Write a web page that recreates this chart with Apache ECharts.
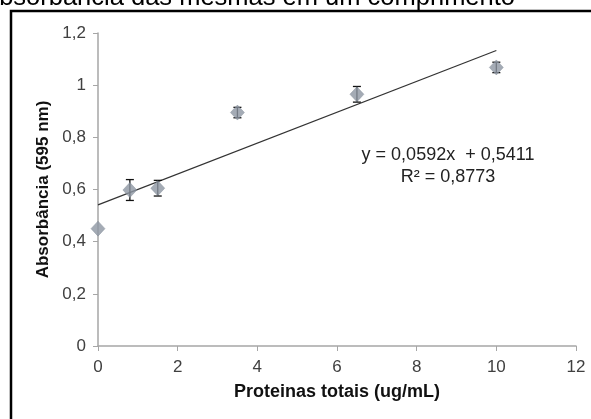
<!DOCTYPE html>
<html>
<head>
<meta charset="utf-8">
<script src="https://cdn.jsdelivr.net/npm/echarts@6/dist/echarts.min.js"></script>
<style>
  html, body { margin: 0; padding: 0; background: #fff; }
  #chart { width: 591px; height: 419px; }
</style>
</head>
<body>
<div id="chart"></div>
<script>
  // values
  const proteinX = [0, 0.8, 1.5, 3.5, 6.5, 10];
  const absorbance = [0.45, 0.598, 0.605, 0.895, 0.965, 1.068];
  const errorBars = [0, 0.04, 0.03, 0.02, 0.03, 0.02];
  const trendPoints = [[0, 0.5411], [10, 1.1331]];
  const equationText = 'y = 0,0592x  + 0,5411';
  const r2Text = 'R² = 0,8773';

  const points = proteinX.map(function (x, i) { return [x, absorbance[i]]; });
  const errData = proteinX.map(function (x, i) {
    return [x, absorbance[i] - errorBars[i], absorbance[i] + errorBars[i]];
  });

  function commaFmt(v) { return String(Math.round(v * 10) / 10).replace('.', ','); }

  const axisGray = '#a6a6a6';
  const labelColor = '#404040';
  const font = 'Liberation Sans, Arial, sans-serif';

  const chart = echarts.init(document.getElementById('chart'));
  chart.setOption({
    animation: false,
    textStyle: { fontFamily: font },
    grid: { left: 98, top: 33, width: 478, height: 313 },
    xAxis: {
      type: 'value', min: 0, max: 12, interval: 2,
      name: 'Proteinas totais (ug/mL)', nameLocation: 'middle', nameGap: 37,
      nameTextStyle: { fontSize: 18, fontWeight: 'bold', color: '#111', fontFamily: font },
      axisLine: { lineStyle: { color: axisGray, width: 1.5 } },
      axisTick: { show: true, length: 5, lineStyle: { color: axisGray } },
      axisLabel: { fontSize: 17, color: labelColor, margin: 13, fontFamily: font },
      splitLine: { show: false }
    },
    yAxis: {
      type: 'value', min: 0, max: 1.2, interval: 0.2,
      name: 'Absorbância (595 nm)', nameLocation: 'middle', nameGap: 42,
      nameTextStyle: { fontSize: 17, fontWeight: 'bold', color: '#111', fontFamily: font },
      axisLine: { show: true, lineStyle: { color: axisGray, width: 1.5 } },
      axisTick: { show: true, length: 5, lineStyle: { color: axisGray } },
      axisLabel: { fontSize: 17, color: labelColor, margin: 12, formatter: commaFmt, fontFamily: font },
      splitLine: { show: false }
    },
    graphic: [
      {
        type: 'text', right: 76, top: -15,
        style: { text: 'absorbância das mesmas em um comprimento', font: '25.5px ' + font, fill: '#000' }
      },
      { type: 'rect', shape: { x: 11, y: 11, width: 620, height: 460 }, style: { fill: 'none', stroke: '#000', lineWidth: 2.5 } },
      {
        type: 'text', x: 448, y: 155,
        style: { text: equationText, font: '18px ' + font, fill: '#222', align: 'center', verticalAlign: 'middle' }
      },
      {
        type: 'text', x: 448, y: 177,
        style: { text: r2Text, font: '18px ' + font, fill: '#222', align: 'center', verticalAlign: 'middle' }
      }
    ],
    series: [
      {
        type: 'line', data: trendPoints, symbol: 'none', z: 2,
        lineStyle: { color: '#333', width: 1.2 }
      },
      {
        type: 'custom', data: errData, z: 3,
        renderItem: function (params, api) {
          const x = api.value(0);
          const lo = api.coord([x, api.value(1)]);
          const hi = api.coord([x, api.value(2)]);
          if (Math.abs(hi[1] - lo[1]) < 1) return { type: 'group', children: [] };
          const cap = 4;
          const st = { stroke: '#111', lineWidth: 1.3 };
          return {
            type: 'group',
            children: [
              { type: 'line', shape: { x1: lo[0], y1: lo[1], x2: hi[0], y2: hi[1] }, style: st },
              { type: 'line', shape: { x1: lo[0] - cap, y1: lo[1], x2: lo[0] + cap, y2: lo[1] }, style: st },
              { type: 'line', shape: { x1: hi[0] - cap, y1: hi[1], x2: hi[0] + cap, y2: hi[1] }, style: st }
            ]
          };
        }
      },
      {
        type: 'scatter', data: points, symbol: 'diamond', symbolSize: [14, 15], z: 4,
        itemStyle: { color: '#8d96a3', borderColor: '#7d8794', borderWidth: 0.5 }
      }
    ]
  });
</script>
</body>
</html>
